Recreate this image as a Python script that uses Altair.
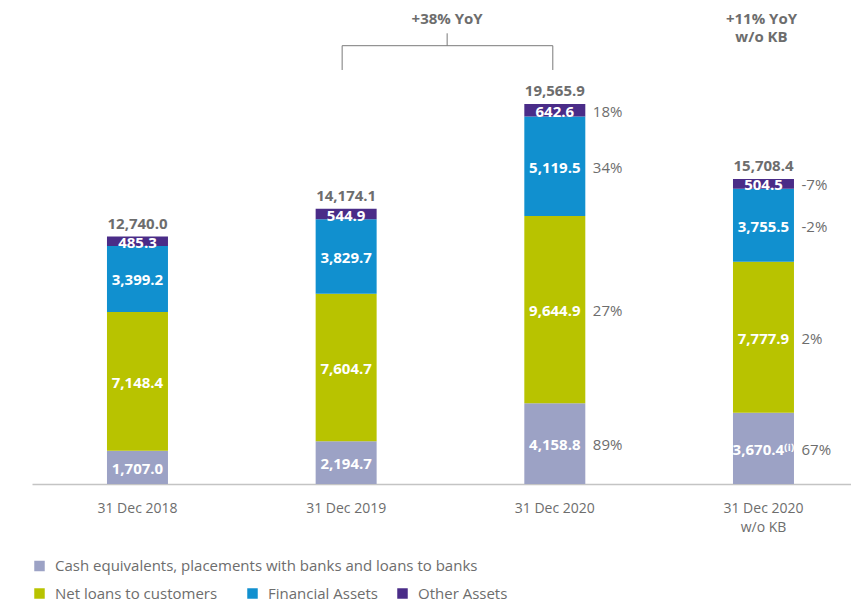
import altair as alt
import pandas as pd

FONT = "Open Sans"
GREY = "#6d6d6d"

categories = ["31 Dec 2018", "31 Dec 2019", "31 Dec 2020", "31 Dec 2020\nw/o KB"]
series = [
    "Cash equivalents, placements with banks and loans to banks",
    "Net loans to customers",
    "Financial Assets",
    "Other Assets",
]
colors = ["#9ca2c5", "#b8c300", "#1190cf", "#4a2c88"]

cash = [1707.0, 2194.7, 4158.8, 3670.4]
net_loans = [7148.4, 7604.7, 9644.9, 7777.9]
financial = [3399.2, 3829.7, 5119.5, 3755.5]
other = [485.3, 544.9, 642.6, 504.5]
totals = [12740.0, 14174.1, 19565.9, 15708.4]

cash_notes = ["", "", "", "\u207d\u2071\u207e"]
pct_cash = ["", "", "89%", "67%"]
pct_loans = ["", "", "27%", "2%"]
pct_fin = ["", "", "34%", "-2%"]
pct_other = ["", "", "18%", "-7%"]

yoy_text = "+38% YoY"
kb_text = ["+11% YoY", "w/o KB"]

# ---- build tables ----
rows = []
for si, (vals, pcts) in enumerate(
    [(cash, pct_cash), (net_loans, pct_loans), (financial, pct_fin), (other, pct_other)]
):
    for ci, cat in enumerate(categories):
        note = cash_notes[ci] if si == 0 else ""
        rows.append(
            {
                "category": cat,
                "series": series[si],
                "order": si,
                "value": vals[ci],
                "label": f"{vals[ci]:,.1f}{note}",
                "pct": pcts[ci],
            }
        )
df = pd.DataFrame(rows)
tot_df = pd.DataFrame({"category": categories, "total": totals, "label": [f"{t:,.1f}" for t in totals]})

Y_MAX = 24508
x_scale = alt.Scale(domain=categories, paddingInner=0.7077, paddingOuter=0.3163, align=0.568, round=False)
y_scale = alt.Scale(domain=[0, Y_MAX], nice=False, zero=True)

x_enc = alt.X(
    "category:N",
    sort=categories,
    scale=x_scale,
    axis=alt.Axis(
        title=None,
        labelAngle=0,
        ticks=False,
        domainColor="#c4c4c4",
        domainWidth=1.5,
        labelColor=GREY,
        labelFont=FONT,
        labelFontSize=14,
        labelPadding=17,
        labelLineHeight=19,
        labelExpr="split(datum.label, '\\n')",
        grid=False,
    ),
)

base = alt.Chart(df).transform_stack(
    stack="value", groupby=["category"], sort=[alt.SortField("order")], as_=["y0", "y1"]
)

legend_pos = [(0, 550.5), (0, 578), (213, 578), (363, 578)]
bar_layers = []
for si, s in enumerate(series):
    lx, ly = legend_pos[si]
    bar_layers.append(
        base.transform_filter(alt.datum.series == s)
        .mark_bar()
        .encode(
            x=x_enc,
            y=alt.Y("y0:Q", scale=y_scale, axis=None),
            y2="y1:Q",
            color=alt.Color(
                "series:N",
                scale=alt.Scale(domain=[s], range=[colors[si]]),
                legend=alt.Legend(
                    title=None,
                    orient="none",
                    legendX=lx,
                    legendY=ly,
                    symbolType="square",
                    symbolSize=110,
                    symbolStrokeWidth=0,
                    labelOffset=8,
                    labelFont=FONT,
                    labelFontSize=15,
                    labelColor=GREY,
                    labelLimit=600,
                    padding=0,
                ),
            ),
        )
    )

mid_base = base.transform_calculate(mid="(datum.y0 + datum.y1) / 2")

seg_labels = mid_base.mark_text(
    color="white", fontWeight="bold", font=FONT, fontSize=15, baseline="middle", dy=1.5
).encode(x=x_enc, y=alt.Y("mid:Q", scale=y_scale, axis=None), text="label:N")

pct_labels = (
    mid_base.transform_filter("datum.pct != ''")
    .mark_text(color=GREY, font=FONT, fontSize=15, align="left", baseline="middle", dx=38, dy=1.5)
    .encode(x=x_enc, y=alt.Y("mid:Q", scale=y_scale, axis=None), text="pct:N")
)

total_labels = (
    alt.Chart(tot_df)
    .mark_text(color=GREY, font=FONT, fontSize=15, fontWeight="bold", baseline="alphabetic", dy=-8)
    .encode(x=x_enc, y=alt.Y("total:Q", scale=y_scale, axis=None), text="label:N")
)

# ---- annotations (bracket and YoY texts) ----
BR_TOP = 22567
BR_LEG = 21316
BR_STUB = 23205
TXT1 = 23950
TXT2 = 22990
c2, c3, c4 = categories[1], categories[2], categories[3]
BRACKET = "#7a7a7a"

ann_h = alt.Chart(pd.DataFrame({"a": [c2], "b": [c3], "y": [BR_TOP]})).mark_rule(
    color=BRACKET, strokeWidth=1, xOffset=-4, x2Offset=-2
).encode(x=alt.X("a:N", scale=x_scale), x2="b:N", y=alt.Y("y:Q", scale=y_scale))

ann_leg1 = alt.Chart(pd.DataFrame({"a": [c2], "y": [BR_LEG], "y2": [BR_TOP]})).mark_rule(
    color=BRACKET, strokeWidth=1, xOffset=-4
).encode(x=alt.X("a:N", scale=x_scale), y=alt.Y("y:Q", scale=y_scale), y2="y2:Q")

ann_leg2 = alt.Chart(pd.DataFrame({"a": [c3], "y": [BR_LEG], "y2": [BR_TOP]})).mark_rule(
    color=BRACKET, strokeWidth=1, xOffset=-2
).encode(x=alt.X("a:N", scale=x_scale), y=alt.Y("y:Q", scale=y_scale), y2="y2:Q")

ann_stub = alt.Chart(pd.DataFrame({"a": [c2], "y": [BR_TOP], "y2": [BR_STUB]})).mark_rule(
    color=BRACKET, strokeWidth=1, xOffset=101
).encode(x=alt.X("a:N", scale=x_scale), y=alt.Y("y:Q", scale=y_scale), y2="y2:Q")

ann_txt1 = alt.Chart(pd.DataFrame({"a": [c2], "y": [TXT1], "t": [yoy_text]})).mark_text(
    color=GREY, font=FONT, fontSize=15, fontWeight="bold", baseline="middle", dx=101
).encode(x=alt.X("a:N", scale=x_scale), y=alt.Y("y:Q", scale=y_scale), text="t:N")

ann_txt2 = alt.Chart(pd.DataFrame({"a": [c4, c4], "y": [TXT1, TXT2], "t": kb_text})).mark_text(
    color=GREY, font=FONT, fontSize=15, fontWeight="bold", baseline="middle", dx=-2
).encode(x=alt.X("a:N", scale=x_scale), y=alt.Y("y:Q", scale=y_scale), text="t:N")

chart = (
    alt.layer(
        *bar_layers,
        seg_labels,
        pct_labels,
        total_labels,
        ann_h,
        ann_leg1,
        ann_leg2,
        ann_stub,
        ann_txt1,
        ann_txt2,
    )
    .resolve_scale(color="independent")
    .resolve_legend(color="independent")
    .properties(
        width=819,
        height=476,
        autosize=alt.AutoSizeParams(type="none"),
        padding={"left": 24, "top": 0, "right": 0, "bottom": 118},
        background="white",
    )
    .configure_view(stroke=None)
)

chart.save("out.html", embed_options={"renderer": "svg", "actions": False})
